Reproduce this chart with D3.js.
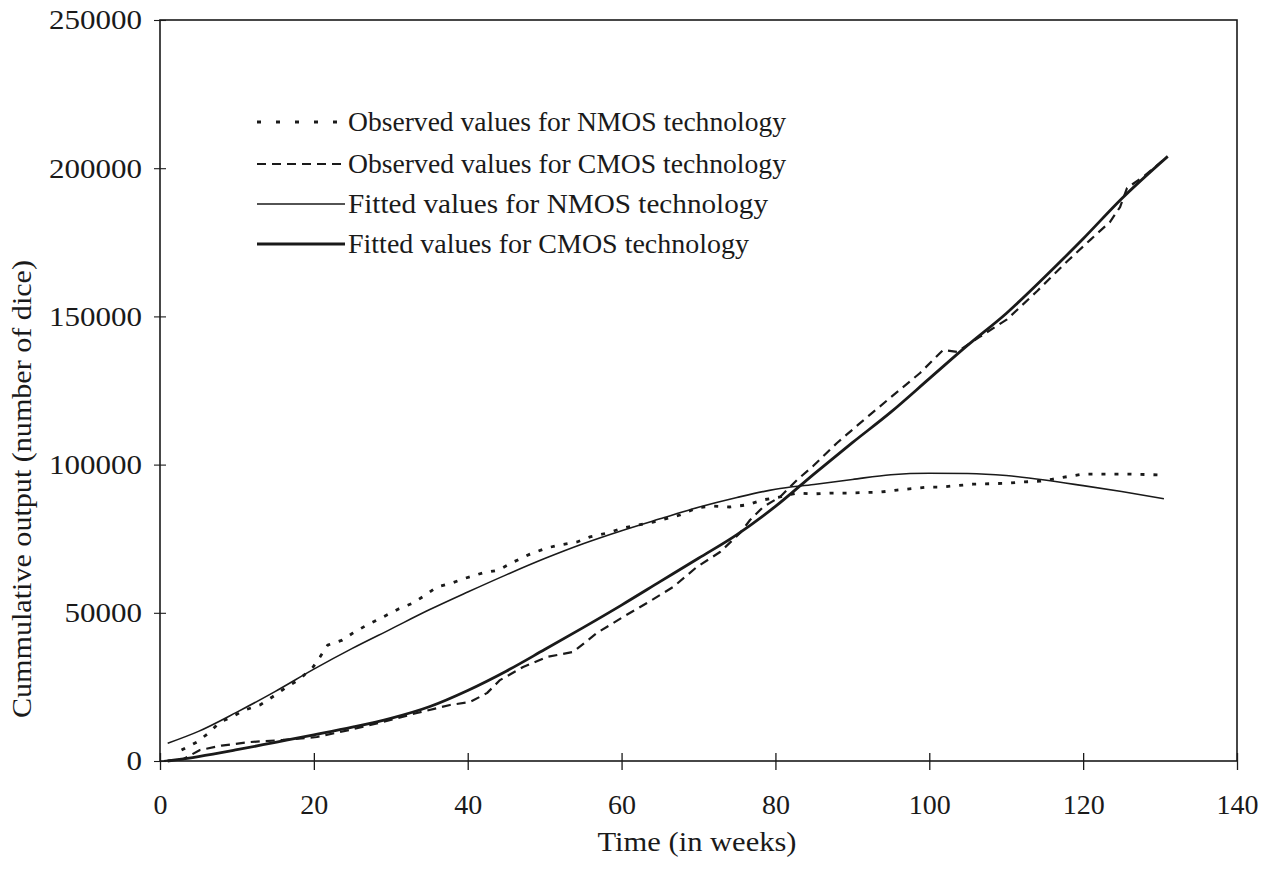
<!DOCTYPE html>
<html>
<head>
<meta charset="utf-8">
<title>Cumulative output NMOS / CMOS</title>
<script src="https://cdnjs.cloudflare.com/ajax/libs/d3/7.8.5/d3.min.js"></script>
<style>
  body { margin: 0; background: #fff; }
  svg text { font-family: "Liberation Serif", "Times New Roman", serif; fill: #1a1a1a; }
</style>
</head>
<body>
<svg id="chart" width="1276" height="883"></svg>
<script>
// observed values, NMOS (dotted)
var nmosObsWeeks = [2.8, 4.8, 6.5, 7.8, 9.1, 11, 13, 14.6, 16.5, 18, 19.9, 20.8, 21.8, 23.7, 25.1, 26.9, 29, 31, 32.9, 34.5, 36, 38, 39.7, 41.9, 44, 45.9, 48.1, 50.3, 52, 54.2, 55.9, 58.1, 60.2, 64.1, 67.6, 69.8, 71.9, 74.1, 76.3, 78.4, 80.6, 82.8, 84.9, 87.1, 89.3, 93.6, 95.8, 99.7, 101.4, 105.7, 110.1, 111.8, 114.4, 116.1, 118.3, 120, 123.1, 126.1, 130.3];
var nmosObsValues = [3700, 6400, 9800, 13200, 14500, 17200, 18900, 21600, 25000, 27300, 31700, 35100, 39100, 40800, 43200, 45900, 48600, 51300, 53300, 56000, 58700, 60100, 61700, 63400, 64400, 67100, 69800, 71900, 72900, 73900, 75600, 76900, 78600, 80600, 83000, 85400, 86000, 85700, 86400, 88100, 89100, 90400, 90100, 90400, 90400, 90700, 91400, 92400, 92400, 93400, 93700, 94100, 94400, 95100, 96100, 96800, 96800, 96800, 96500];

// observed values, CMOS (dashed)
var cmosObsWeeks = [0.5, 3, 5.2, 8, 11.7, 16, 20.4, 24.7, 29, 33.4, 37.7, 40.3, 42.5, 44.2, 47.2, 50.3, 53.7, 56.8, 60.2, 63.3, 66.7, 69.8, 72.8, 75.4, 76.7, 78.4, 80.6, 82.8, 84.9, 88, 91, 94.9, 98.8, 101.8, 103.6, 106.5, 110.1, 114, 117.9, 121, 123.5, 124.8, 125.7, 128, 130.9];
var cmosObsValues = [0, 600, 3700, 5200, 6400, 7100, 8100, 10500, 13200, 16200, 18900, 19900, 22900, 27300, 31700, 35100, 36800, 43200, 48600, 53300, 58700, 65500, 70500, 76900, 81300, 85700, 89100, 94800, 99500, 107300, 114000, 122500, 130900, 138700, 138000, 143000, 149000, 158500, 168500, 176000, 181900, 186900, 193300, 197500, 203800];

// fitted values, NMOS (thin line)
var nmosFitWeeks = [1, 5, 10, 15, 20, 25, 30, 35, 40, 45, 50, 55, 60, 65, 70, 75, 80, 85, 90, 95, 100, 105, 110, 115, 120, 125, 130.5];
var nmosFitValues = [6000, 10000, 16500, 23500, 31000, 38000, 44500, 51000, 57000, 62800, 68300, 73300, 77700, 81700, 85600, 88900, 91700, 93300, 95000, 96600, 97100, 97000, 96300, 94800, 92900, 90900, 88500];

// fitted values, CMOS (thick line)
var cmosFitWeeks = [1, 5, 10, 15, 20, 25, 30, 35, 40, 45, 50, 55, 60, 65, 70, 75, 80, 85, 90, 95, 100, 105, 110, 115, 120, 125, 131];
var cmosFitValues = [0, 1500, 3800, 6300, 8800, 11400, 14400, 18300, 23800, 30300, 37600, 45000, 52600, 60500, 68400, 76400, 85900, 96800, 107400, 117700, 129000, 140300, 151000, 163300, 176200, 189700, 204000];

var xTicks = [0, 20, 40, 60, 80, 100, 120, 140];
var yTicks = [0, 50000, 100000, 150000, 200000, 250000];

var legendLabels = [
  "Observed values for NMOS technology",
  "Observed values for CMOS technology",
  "Fitted values for NMOS technology",
  "Fitted values for CMOS technology"
];

var svg = d3.select("#chart");
var ink = "#1a1a1a";

var plotLeft = 160, plotRight = 1237, plotTop = 20, plotBottom = 761;

var x = d3.scaleLinear().domain([0, 140]).range([plotLeft, plotRight]);
var y = d3.scaleLinear().domain([0, 250000]).range([plotBottom, plotTop]);

function zip(ws, vs) {
  return ws.map(function(w, i) { return [w, vs[i]]; });
}

// frame
svg.append("rect")
  .attr("x", plotLeft).attr("y", plotTop)
  .attr("width", plotRight - plotLeft).attr("height", plotBottom - plotTop)
  .attr("fill", "none").attr("stroke", ink).attr("stroke-width", 1.6);

// axes
var xAxis = svg.append("g")
  .attr("transform", "translate(0," + plotBottom + ")")
  .call(d3.axisBottom(x).tickValues(xTicks).tickSize(0).tickPadding(33).tickFormat(d3.format("d")));
xAxis.select(".domain").remove();
xAxis.selectAll(".tick").append("line")
  .attr("y1", -8).attr("y2", 9).attr("stroke", ink).attr("stroke-width", 1.3);
xAxis.selectAll(".tick text")
  .attr("font-size", 28).attr("fill", ink)
  .attr("textLength", function(d) { return String(d).length * 14; })
  .attr("lengthAdjust", "spacingAndGlyphs");

var yAxis = svg.append("g")
  .attr("transform", "translate(" + plotLeft + ",0)")
  .call(d3.axisLeft(y).tickValues(yTicks).tickSize(0).tickPadding(18).tickFormat(d3.format("d")));
yAxis.select(".domain").remove();
yAxis.selectAll(".tick").append("line")
  .attr("x1", -6).attr("x2", 6).attr("stroke", ink).attr("stroke-width", 1.1);
yAxis.selectAll(".tick text")
  .attr("font-size", 28).attr("fill", ink)
  .attr("textLength", function(d) { return String(d).length * 15.5; })
  .attr("lengthAdjust", "spacingAndGlyphs");

// axis titles
svg.append("text")
  .attr("x", 697).attr("y", 851)
  .attr("text-anchor", "middle")
  .attr("font-size", 27)
  .attr("textLength", 199).attr("lengthAdjust", "spacingAndGlyphs")
  .text("Time (in weeks)");

svg.append("text")
  .attr("transform", "translate(31,489) rotate(-90)")
  .attr("text-anchor", "middle")
  .attr("font-size", 27)
  .attr("textLength", 458).attr("lengthAdjust", "spacingAndGlyphs")
  .text("Cummulative output (number of dice)");

// series
var styles = [
  { data: zip(nmosObsWeeks, nmosObsValues), width: 2.8, dash: "4,9", curve: d3.curveLinear },
  { data: zip(cmosObsWeeks, cmosObsValues), width: 2.2, dash: "9,6", curve: d3.curveLinear },
  { data: zip(nmosFitWeeks, nmosFitValues), width: 1.6, dash: null, curve: d3.curveMonotoneX },
  { data: zip(cmosFitWeeks, cmosFitValues), width: 2.8, dash: null, curve: d3.curveMonotoneX }
];

styles.forEach(function(s) {
  var line = d3.line()
    .x(function(d) { return x(d[0]); })
    .y(function(d) { return y(d[1]); })
    .curve(s.curve);
  svg.append("path")
    .datum(s.data)
    .attr("d", line)
    .attr("fill", "none")
    .attr("stroke", ink)
    .attr("stroke-width", s.width)
    .attr("stroke-dasharray", s.dash)
    .attr("stroke-linejoin", "round");
});

// legend
var legendRows = [122, 164, 204, 244];
var legendWidths = [438, 438, 420, 401];
var legend = svg.append("g");
styles.forEach(function(s, i) {
  legend.append("line")
    .attr("x1", 257).attr("x2", 345)
    .attr("y1", legendRows[i]).attr("y2", legendRows[i])
    .attr("stroke", ink)
    .attr("stroke-width", s.width)
    .attr("stroke-dasharray", i === 0 ? "4,15" : s.dash);
  legend.append("text")
    .attr("x", 348).attr("y", legendRows[i] + 9)
    .attr("font-size", 27)
    .attr("textLength", legendWidths[i]).attr("lengthAdjust", "spacingAndGlyphs")
    .text(legendLabels[i]);
});
</script>
</body>
</html>
